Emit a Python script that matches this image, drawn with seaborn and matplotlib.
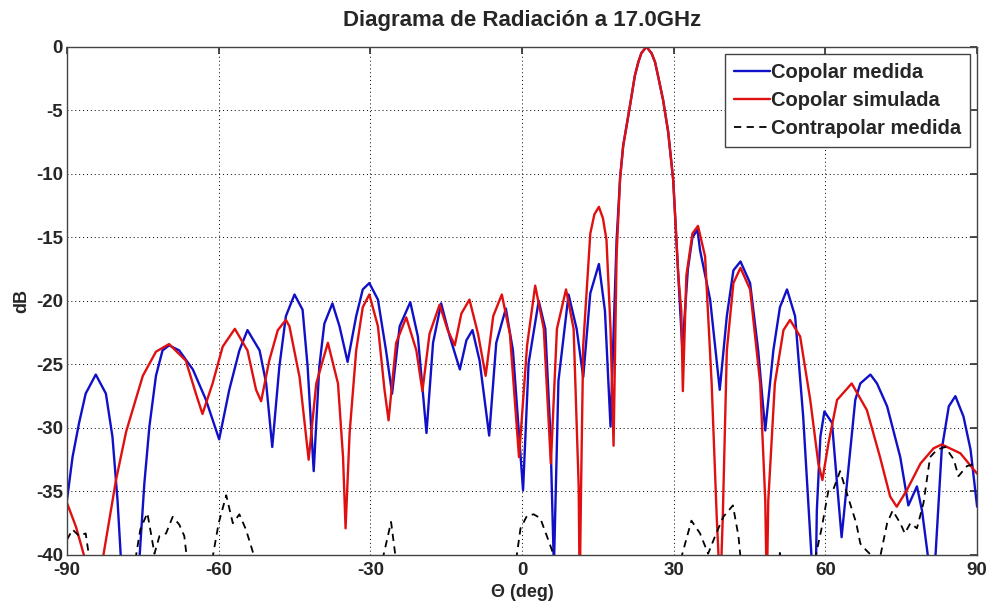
import matplotlib
matplotlib.use("Agg")
import matplotlib.pyplot as plt
import seaborn as sns
import pandas as pd

# Values (theta in deg, level in dB)
# points below -40 dB are nulls that fall outside the plotted range
theta_copolar_medida = [
    -90, -88.9, -87.6, -86.3, -84.3, -82.3, -81.0, -80.0, -79.3, -77.5,
    -75.7, -74.7, -73.7, -72.4, -71.1, -69.8, -67.8, -65.1, -62.5, -59.9,
    -57.9, -55.9, -54.3, -51.9, -50.6, -49.4, -48.0, -46.7, -45.0, -43.4,
    -42.4, -41.2, -40.1, -39.1, -37.5, -36.1, -34.5, -32.8, -31.5, -30.2,
    -28.5, -26.9, -25.7, -24.2, -22.1, -20.6, -18.9, -17.6, -16.0, -14.3,
    -12.3, -11.0, -9.8, -8.4, -6.5, -5.1, -3.2, -1.8, 0.2, 1.3,
    3.3, 4.6, 5.6, 6.3, 7.2, 9.2, 10.8, 12.1, 13.5, 15.2,
    16.4, 17.5, 18.7, 19.4, 20.0, 21.3, 22.3, 23.0, 23.6, 24.6,
    25.6, 26.3, 26.9, 27.9, 28.9, 29.9, 30.9, 31.7, 32.8, 33.7,
    34.7, 35.2, 37.2, 39.1, 40.5, 41.8, 43.2, 45.1, 46.7, 48.1,
    49.7, 51.0, 52.4, 54.0, 55.6, 57.3, 58.0, 58.3, 59.0, 59.8,
    61.3, 62.3, 63.2, 64.6, 65.9, 66.9, 68.9, 70.2, 72.2, 74.8,
    76.4, 78.1, 79.1, 80.4, 81.0, 81.7, 83.0, 84.4, 85.7, 87.3,
    88.7, 90,
]
db_copolar_medida = [
    -35.7, -32.3, -29.6, -27.3, -25.8, -27.3, -30.7, -35.7, -40.5, -45,
    -40.5, -34.4, -29.9, -25.9, -23.9, -23.5, -23.9, -25.4, -27.8, -30.9,
    -27.0, -23.9, -22.3, -23.9, -26.5, -31.5, -25.2, -21.2, -19.5, -20.7,
    -25.2, -33.4, -25.2, -21.8, -20.2, -22.0, -24.8, -21.2, -19.1, -18.6,
    -19.9, -23.9, -27.3, -22.0, -20.1, -22.8, -30.4, -23.3, -20.2, -22.8,
    -25.4, -23.1, -22.3, -24.7, -30.6, -23.3, -20.6, -23.9, -34.9, -24.9,
    -20.0, -22.2, -30.4, -41.0, -26.3, -19.5, -22.2, -26.0, -19.4, -17.1,
    -20.8, -29.9, -15.2, -10.3, -7.8, -4.75, -2.3, -1.2, -0.5, 0.0,
    -0.5, -1.2, -2.3, -4.2, -6.7, -10.5, -18.0, -23.8, -17.5, -15.0,
    -14.4, -16.0, -19.9, -27.0, -21.2, -17.6, -16.9, -18.6, -23.9, -30.2,
    -23.9, -20.5, -19.1, -21.2, -29.1, -40.5, -44, -36.5, -30.7, -28.7,
    -29.6, -34.4, -38.6, -33.0, -27.8, -26.5, -25.8, -26.5, -28.3, -32.3,
    -36.1, -34.6, -36.5, -40.5, -44, -40.5, -31.7, -28.3, -27.5, -29.1,
    -31.7, -36.2,
]

theta_copolar_simulada = [
    -90, -88.2, -86.3, -84.6, -83.0, -80.3, -78.3, -75.0, -72.4, -69.8,
    -66.5, -64.5, -63.2, -61.2, -59.2, -56.8, -54.3, -52.6, -51.6, -50.0,
    -48.3, -46.7, -46.0, -44.0, -42.2, -40.7, -38.4, -36.4, -35.4, -34.9,
    -34.1, -32.8, -31.5, -30.2, -28.5, -27.2, -26.4, -24.9, -22.9, -20.9,
    -19.7, -18.3, -16.3, -14.7, -13.3, -12.0, -10.4, -8.7, -7.2, -5.7,
    -4.0, -2.4, -0.6, 1.0, 2.6, 4.3, 5.7, 6.9, 8.7, 10.2,
    11.2, 11.4, 11.7, 12.1, 13.5, 14.3, 15.2, 16.0, 16.7, 17.5,
    18.1, 18.7, 19.4, 20.0, 21.3, 22.3, 23.0, 23.6, 24.6, 25.6,
    26.3, 26.9, 27.9, 28.9, 29.9, 30.9, 31.5, 31.8, 32.5, 33.7,
    34.8, 36.2, 37.5, 38.5, 39.2, 39.7, 40.5, 41.8, 43.2, 45.1,
    47.1, 48.1, 48.4, 48.7, 50.0, 51.7, 53.0, 55.0, 57.0, 58.6,
    59.4, 60.6, 62.3, 65.2, 68.2, 70.8, 72.8, 74.1, 76.1, 78.8,
    81.4, 83.0, 86.7, 90,
]
db_copolar_simulada = [
    -35.9, -37.8, -40.5, -43, -40.5, -34.1, -30.3, -25.9, -24.0, -23.4,
    -24.7, -27.3, -28.9, -26.5, -23.6, -22.2, -23.9, -27.0, -27.9, -24.7,
    -22.3, -21.5, -22.0, -26.0, -32.5, -26.5, -23.3, -26.5, -32.3, -37.9,
    -30.4, -23.9, -20.5, -19.5, -22.0, -27.0, -29.4, -23.3, -21.3, -23.9,
    -27.1, -22.6, -20.3, -22.3, -23.5, -21.0, -19.9, -22.6, -25.9, -21.2,
    -19.5, -22.6, -32.3, -23.5, -18.8, -22.2, -32.8, -22.2, -19.1, -22.2,
    -34.6, -43, -34.0, -23.5, -14.7, -13.2, -12.6, -13.5, -15.2, -22.2,
    -31.4, -16.4, -10.3, -7.8, -4.75, -2.3, -1.2, -0.5, 0.0, -0.5,
    -1.2, -2.3, -4.2, -6.7, -10.5, -18.0, -20.8, -27.1, -18.0, -14.7,
    -14.1, -16.5, -26.5, -37.0, -43, -37.0, -23.9, -18.6, -17.4, -19.1,
    -26.5, -35.7, -43, -35.7, -26.5, -22.3, -21.5, -22.8, -27.8, -32.8,
    -34.1, -31.2, -27.8, -26.5, -28.6, -32.3, -35.4, -36.2, -34.9, -32.8,
    -31.6, -31.3, -32.0, -33.6,
]

theta_contrapolar = [
    -90, -88.9, -87.6, -86.3, -85.6, -85.0, -77.0, -76.4, -75.5, -74.1,
    -73.3, -72.7, -71.7, -70.4, -69.1, -67.8, -66.8, -66.3, -65.5, -62.0,
    -61.2, -60.0, -58.5, -57.2, -55.9, -54.6, -52.9, -52.0, -28.5, -27.5,
    -25.9, -25.0, -24.0, -2.0, -1.1, -0.3, 1.0, 2.3, 3.6, 4.9,
    5.9, 6.5, 7.0, 30.8, 31.5, 33.5, 35.2, 36.8, 38.2, 39.8,
    41.7, 42.8, 43.2, 44.0, 50.5, 51.0, 51.5, 57.5, 58.0, 59.3,
    60.6, 61.6, 62.9, 64.2, 66.1, 66.9, 68.0, 69.5, 70.2, 70.8,
    72.2, 73.3, 74.8, 75.7, 76.8, 78.1, 79.4, 80.7, 82.1, 83.7,
    85.4, 86.3, 88.0, 90,
]
db_contrapolar = [
    -38.8, -38.0, -38.5, -38.3, -40.2, -45, -45, -40.2, -38.0, -36.7,
    -38.5, -39.9, -38.5, -38.3, -37.0, -37.6, -38.5, -40.2, -45, -45,
    -40.2, -37.5, -35.3, -37.5, -36.8, -38.0, -40.2, -45, -45, -40.2,
    -37.4, -40.2, -45, -45, -40.2, -37.9, -36.9, -36.8, -37.1, -38.5,
    -39.6, -40.5, -45, -45, -40.2, -37.3, -38.3, -39.9, -38.5, -37.0,
    -36.1, -38.5, -40.2, -45, -45, -39.6, -45, -45, -40.2, -37.8,
    -34.9, -34.8, -33.4, -35.1, -37.5, -39.1, -39.6, -40.2, -40.5, -40.2,
    -37.5, -36.5, -37.5, -38.3, -37.5, -37.9, -35.9, -32.3, -31.7, -31.5,
    -32.5, -33.8, -33.0, -32.8,
]

series_names = ["Copolar medida", "Copolar simulada", "Contrapolar medida"]
x_ticks = [-90, -60, -30, 0, 30, 60, 90]
y_ticks = [0, -5, -10, -15, -20, -25, -30, -35, -40]


def main():
    sns.set_theme(style="white")
    plt.rcParams["font.family"] = ["Liberation Sans", "DejaVu Sans"]
    plt.rcParams["font.weight"] = "bold"
    plt.rcParams["axes.unicode_minus"] = False

    fig = plt.figure(figsize=(9.92, 6.09), dpi=100)
    ax = fig.add_axes([0.0675, 0.0887, 0.9175, 0.8345])

    df_med = pd.DataFrame({"theta": theta_copolar_medida, "dB": db_copolar_medida})
    df_sim = pd.DataFrame({"theta": theta_copolar_simulada, "dB": db_copolar_simulada})
    df_cx = pd.DataFrame({"theta": theta_contrapolar, "dB": db_contrapolar})

    sns.lineplot(data=df_med, x="theta", y="dB", ax=ax, estimator=None, sort=False,
                 color="#1010c8", linewidth=1.7, label=series_names[0])
    sns.lineplot(data=df_sim, x="theta", y="dB", ax=ax, estimator=None, sort=False,
                 color="#e01010", linewidth=1.7, label=series_names[1])
    sns.lineplot(data=df_cx, x="theta", y="dB", ax=ax, estimator=None, sort=False,
                 color="black", linewidth=1.3, linestyle=(0, (4, 3)), label=series_names[2])

    ax.set_xlim(-90, 90)
    ax.set_ylim(-40, 0)
    ax.set_xticks(x_ticks)
    ax.set_yticks(y_ticks)
    ax.tick_params(direction="in", length=5, top=True, right=True, labelsize=13.5,
                   color="#333333")
    ax.tick_params(axis="x", pad=5)
    ax.tick_params(axis="y", pad=3)
    for lab in ax.get_xticklabels() + ax.get_yticklabels():
        lab.set_fontweight("bold")
    ax.grid(True, linestyle=(0, (1, 3)), color="black", linewidth=0.7)
    for sp in ax.spines.values():
        sp.set_color("#444444")
        sp.set_linewidth(1.0)

    ax.set_title("Diagrama de Radiación a 17.0GHz", fontsize=16, fontweight="bold", pad=15)
    ax.set_xlabel("Θ (deg)", fontsize=13, fontweight="bold", labelpad=4)
    ax.set_ylabel("dB", fontsize=13, fontweight="bold", labelpad=4)

    leg = ax.legend(loc="upper right", fontsize=14.5, frameon=True, fancybox=False,
                    edgecolor="#444444", framealpha=1, handlelength=1.8,
                    handletextpad=0.05, borderpad=0.45, labelspacing=0.45,
                    borderaxespad=0.35)
    leg.get_frame().set_linewidth(1.0)
    for t in leg.get_texts():
        t.set_fontweight("bold")

    fig.savefig("out.png", dpi=100)


if __name__ == "__main__":
    main()
